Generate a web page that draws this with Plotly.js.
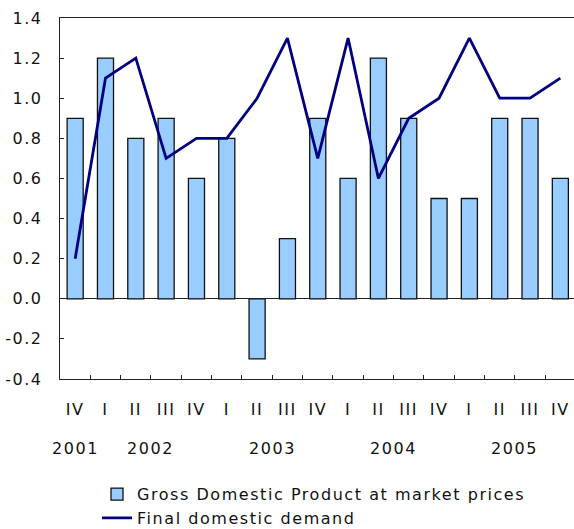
<!DOCTYPE html>
<html>
<head>
<meta charset="utf-8">
<script src="https://cdn.plot.ly/plotly-3.0.1.min.js"></script>
<style>
html,body{margin:0;padding:0;background:#fff;}
#chart{width:574px;height:529px;}
text{letter-spacing:1.55px;}
</style>
</head>
<body>
<div id="chart"></div>
<script>
// Quarters (unique category keys), their labels and years
var quarterKeys = ["2001 IV","2002 I","2002 II","2002 III","2002 IV","2003 I","2003 II","2003 III","2003 IV","2004 I","2004 II","2004 III","2004 IV","2005 I","2005 II","2005 III","2005 IV"];
var quarterLabels = ["IV","I","II","III","IV","I","II","III","IV","I","II","III","IV","I","II","III","IV"];
var quarterYears = ["2001","2002","2002","2002","2002","2003","2003","2003","2003","2004","2004","2004","2004","2005","2005","2005","2005"];

// Series values (quarter-on-quarter % change)
var gdpValues = [0.9, 1.2, 0.8, 0.9, 0.6, 0.8, -0.3, 0.3, 0.9, 0.6, 1.2, 0.9, 0.5, 0.5, 0.9, 0.9, 0.6];
var demandValues = [0.2, 1.1, 1.2, 0.7, 0.8, 0.8, 1.0, 1.3, 0.7, 1.3, 0.6, 0.9, 1.0, 1.3, 1.0, 1.0, 1.1];

// Y tick labels
var yTickVals = [-0.4, -0.2, 0.0, 0.2, 0.4, 0.6, 0.8, 1.0, 1.2, 1.4];
var yTickText = ["-0.4", "-0.2", "0.0", "0.2", "0.4", "0.6", "0.8", "1.0", "1.2", "1.4"];

var FONT = "DejaVu Sans, Arial, sans-serif";
var TXT = "#111";
var FS = 16;

// year group annotations (centred under each year's quarters)
var yearNames = [];
quarterYears.forEach(function(y){ if (yearNames.indexOf(y) < 0) yearNames.push(y); });
var annotations = yearNames.map(function(y){
  var idx = [];
  quarterYears.forEach(function(q, i){ if (q === y) idx.push(i); });
  var c = idx.reduce(function(a,b){return a+b;},0) / idx.length;
  return {
    x: c, xref: "x", y: -0.1925, yref: "paper",
    text: y, showarrow: false, xanchor: "center", yanchor: "middle",
    font: {family: FONT, size: FS, color: TXT}
  };
});

var traces = [
  {
    type: "bar",
    name: "Gross Domestic Product at market prices",
    x: quarterKeys,
    y: gdpValues,
    width: 0.53,
    marker: {color: "#99CCFF", line: {color: "#111", width: 1.3}},
    legendgroup: "a",
    hoverinfo: "y"
  },
  {
    type: "scatter",
    mode: "lines",
    name: "Final domestic demand",
    x: quarterKeys,
    y: demandValues,
    line: {color: "#000080", width: 2.8},
    legendgroup: "b",
    hoverinfo: "y"
  }
];

var layout = {
  width: 574, height: 529,
  margin: {l: 60, r: 0, t: 18, b: 150, autoexpand: false},
  paper_bgcolor: "#fff", plot_bgcolor: "#fff",
  font: {family: FONT, size: FS, color: TXT},
  showlegend: true,
  legend: {
    x: 0.072, y: -0.272, xanchor: "left", yanchor: "top",
    orientation: "v", bgcolor: "rgba(0,0,0,0)", borderwidth: 0,
    font: {family: FONT, size: FS, color: TXT},
    tracegroupgap: 12, traceorder: "normal"
  },
  xaxis: {
    type: "category",
    range: [-0.5, 16.45],
    tickmode: "array",
    tickvals: quarterKeys,
    ticktext: quarterLabels,
    tickson: "boundaries",
    ticks: "inside", ticklen: 4, tickcolor: "#222", tickwidth: 1,
    showline: true, linecolor: "#222", linewidth: 1.2, mirror: true,
    showgrid: false, zeroline: false,
    ticklabelstandoff: 16,
    tickfont: {family: FONT, size: FS, color: TXT},
    fixedrange: true
  },
  yaxis: {
    range: [-0.4, 1.4],
    tickmode: "array",
    tickvals: yTickVals,
    ticktext: yTickText,
    ticks: "inside", ticklen: 4, tickcolor: "#222", tickwidth: 1,
    showline: true, linecolor: "#222", linewidth: 1.2, mirror: true,
    showgrid: false,
    zeroline: true, zerolinecolor: "#222", zerolinewidth: 1.2,
    ticklabelstandoff: 13,
    tickfont: {family: FONT, size: FS, color: TXT},
    fixedrange: true
  },
  annotations: annotations,
  bargap: 0.47
};

Plotly.newPlot("chart", traces, layout, {displayModeBar: false, staticPlot: true});
</script>
</body>
</html>
